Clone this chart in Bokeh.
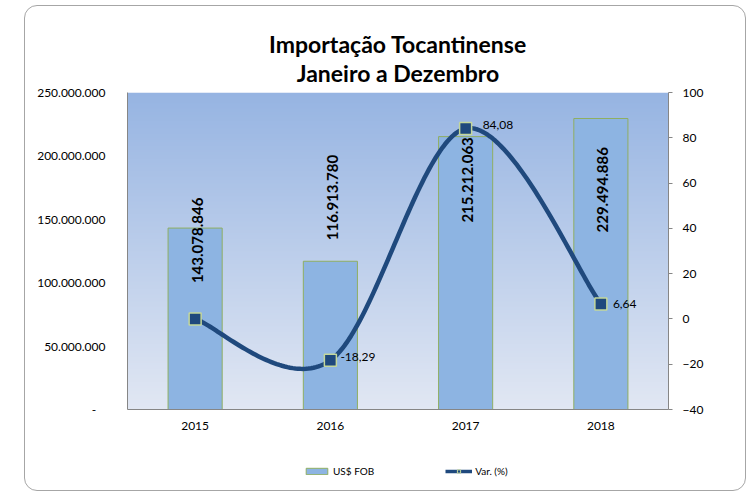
import numpy as np
from bokeh.plotting import figure
from bokeh.layouts import column
from bokeh.models import (Range1d, LinearAxis, FixedTicker, ColumnDataSource,
                          LabelSet, Title, Legend, LegendItem)
from bokeh.core.properties import value
from bokeh.embed import file_html
from bokeh.resources import INLINE

# ---------------- data ----------------
years = ["2015", "2016", "2017", "2018"]
fob_usd = [143078846, 116913780, 215212063, 229494886]
var_pct = [0.0, -18.29, 84.08, 6.64]
left_ticks = [0, 50000000, 100000000, 150000000, 200000000, 250000000]
right_ticks = [-40, -20, 0, 20, 40, 60, 80, 100]
title_lines = ["Importação Tocantinense", "Janeiro a Dezembro"]
series_names = ["US$ FOB", "Var. (%)"]

# ---------------- layout / style ----------------
FONT = "Lato"
W, H = 720, 433
BL, BR, BT, BB = 102, 77, 86, 30
FW, FH = W - BL - BR, H - BT - BB
LH = 51                      # legend strip height
Y_MAX = 250000000
P_MIN, P_MAX = -40, 100
N = len(years)

BAR_FILL, BAR_LINE = "#8DB4E2", "#8FAE62"
LINE_C, MARK_LINE = "#1F497D", "#C4D79B"

bar_label_offsets = [-55, 21, -86, -114]     # px from bar top (up positive)
var_label_dx = [12, 10, 17, 12]
var_label_dy = [0, 3, 4, 0]

xs = [i + 0.5 for i in range(N)]

p = figure(width=W, height=H, output_backend="svg", toolbar_location=None,
           x_range=Range1d(0, N), y_range=Range1d(0, Y_MAX),
           min_border_left=BL, min_border_right=BR,
           min_border_top=BT, min_border_bottom=BB,
           background_fill_color=None, border_fill_color=None,
           outline_line_color=None)
p.xgrid.visible = False
p.ygrid.visible = False

# gradient background of the plot area
top_c = np.array([0x96, 0xB4, 0xE2], dtype=float)
bot_c = np.array([0xE1, 0xE7, 0xF3], dtype=float)
t = np.linspace(0, 1, FH)[:, None]
rgb = bot_c * (1 - t) + top_c * t
img = np.empty((FH, 1), dtype=np.uint32)
view = img.view(dtype=np.uint8).reshape((FH, 1, 4))
view[:, 0, 0:3] = np.round(rgb).astype(np.uint8)
view[:, 0, 3] = 255
p.image_rgba(image=[img], x=0, y=0, dw=N, dh=Y_MAX)

# bars
src = ColumnDataSource(dict(
    x=xs, top=fob_usd,
    lbl=[f"{v:,}".replace(",", ".") for v in fob_usd],
    off=bar_label_offsets))
p.vbar(x="x", top="top", width=0.4, bottom=0, source=src,
       fill_color=BAR_FILL, line_color=BAR_LINE, line_width=1)

p.add_layout(LabelSet(x="x", y="top", text="lbl", source=src, y_offset="off",
                      x_offset=2, angle=np.pi / 2, text_align="left",
                      text_baseline="middle",
                      text_font=value(FONT), text_font_style="bold",
                      text_font_size="15px", text_color="#000000"))

# secondary axis
p.extra_y_ranges = {"pct": Range1d(P_MIN, P_MAX)}

# smoothed line (Catmull-Rom -> Bezier, in pixel space like Excel's smoothing)
sx = FW / N
sy = FH / (P_MAX - P_MIN)
pts = [np.array([x * sx, v * sy]) for x, v in zip(xs, var_pct)]
cx, cy = [], []
tt = np.linspace(0, 1, 60)
for i in range(len(pts) - 1):
    p0 = pts[i - 1] if i > 0 else pts[i]
    p1, p2 = pts[i], pts[i + 1]
    p3 = pts[i + 2] if i + 2 < len(pts) else pts[i + 1]
    b1 = p1 + (p2 - p0) / 6
    b2 = p2 - (p3 - p1) / 6
    for u in tt:
        q = ((1 - u) ** 3) * p1 + 3 * ((1 - u) ** 2) * u * b1 + 3 * (1 - u) * u * u * b2 + u ** 3 * p2
        cx.append(q[0] / sx)
        cy.append(q[1] / sy)

p.line(x=cx, y=cy, y_range_name="pct", line_color=LINE_C,
       line_width=4.5, line_join="round", line_cap="round")
vsrc = ColumnDataSource(dict(
    x=xs, y=var_pct,
    lbl=[(f"{v:.2f}".replace(".", ",") if v != 0 else "") for v in var_pct],
    dx=var_label_dx, dy=var_label_dy))
p.scatter(x="x", y="y", source=vsrc, y_range_name="pct", marker="square",
          size=12, fill_color=LINE_C, line_color=MARK_LINE, line_width=1.5)
p.add_layout(LabelSet(x="x", y="y", text="lbl", source=vsrc, y_range_name="pct",
                      x_offset="dx", y_offset="dy", text_align="left",
                      text_baseline="middle", text_font=value(FONT),
                      text_font_size="12px", text_color="#000000"))

# axes
AX = "#868686"
xa = p.xaxis[0]
xa.ticker = FixedTicker(ticks=xs)
xa.major_label_overrides = {x: y for x, y in zip(xs, years)}
xa.axis_line_color = AX
xa.major_tick_line_color = None
xa.major_tick_out = 0
xa.major_tick_in = 0
xa.minor_tick_line_color = None
xa.major_label_standoff = 12
xa.major_label_text_font = FONT
xa.major_label_text_font_size = "12px"
xa.major_label_text_color = "#000000"

ya = p.yaxis[0]
ya.ticker = FixedTicker(ticks=left_ticks)
ya.major_label_overrides = {v: (f"{v:,}".replace(",", ".") if v != 0 else "-   ") for v in left_ticks}
ya.axis_line_color = AX
ya.major_tick_line_color = None
ya.minor_tick_line_color = None
ya.major_label_standoff = 16
ya.major_label_text_font = FONT
ya.major_label_text_font_size = "12px"
ya.major_label_text_color = "#000000"

ra = LinearAxis(y_range_name="pct", ticker=FixedTicker(ticks=right_ticks))
ra.axis_line_color = AX
ra.major_tick_line_color = AX
ra.major_tick_in = 0
ra.major_tick_out = 4
ra.minor_tick_line_color = None
ra.major_label_standoff = 10
ra.major_label_text_font = FONT
ra.major_label_text_font_size = "12px"
ra.major_label_text_color = "#000000"
p.add_layout(ra, "right")

# title (added nearest-first)
for txt, so in zip(reversed(title_lines), [12, -14]):
    p.add_layout(Title(text=txt, align="center", standoff=so,
                       text_font=FONT, text_font_style="bold",
                       text_font_size="23px", text_color="#000000"), "above")

# legend strip (its own small figure; the series here are hidden and only
# feed the legend swatches)
leg = figure(width=W, height=LH, output_backend="svg", toolbar_location=None,
             x_range=Range1d(100, 101), y_range=Range1d(100, 101), min_border=0,
             x_axis_location=None, y_axis_location=None,
             outline_line_color=None, background_fill_color=None,
             border_fill_color=None)
leg.grid.visible = False
lb = leg.vbar(x=xs, top=fob_usd, width=0.4, fill_color=BAR_FILL,
              line_color=BAR_LINE, line_width=1, visible=False)
ll = leg.line(x=xs, y=var_pct, line_color=LINE_C, line_width=3.5, visible=False)
ls = leg.scatter(x=xs, y=var_pct, marker="square", size=8, fill_color=LINE_C,
                 line_color=MARK_LINE, line_width=1, visible=False)
legend = Legend(items=[LegendItem(label=series_names[0], renderers=[lb]),
                       LegendItem(label=series_names[1], renderers=[ll, ls])],
                orientation="horizontal", location=(176, 13),
                glyph_width=27, glyph_height=8, label_height=10, label_standoff=3,
                spacing=71, padding=0, margin=0,
                label_text_font=FONT, label_text_font_size="10px",
                label_text_color="#000000", inactive_fill_alpha=0,
                background_fill_alpha=0, border_line_color=None)
leg.add_layout(legend, "center")

page = column(p, leg, spacing=0)
page.styles = {"margin-left": "24px", "margin-top": "5px",
               "border": "1px solid #A6A6A6", "border-radius": "13px"}

open("out.html", "w").write(file_html(page, INLINE))
